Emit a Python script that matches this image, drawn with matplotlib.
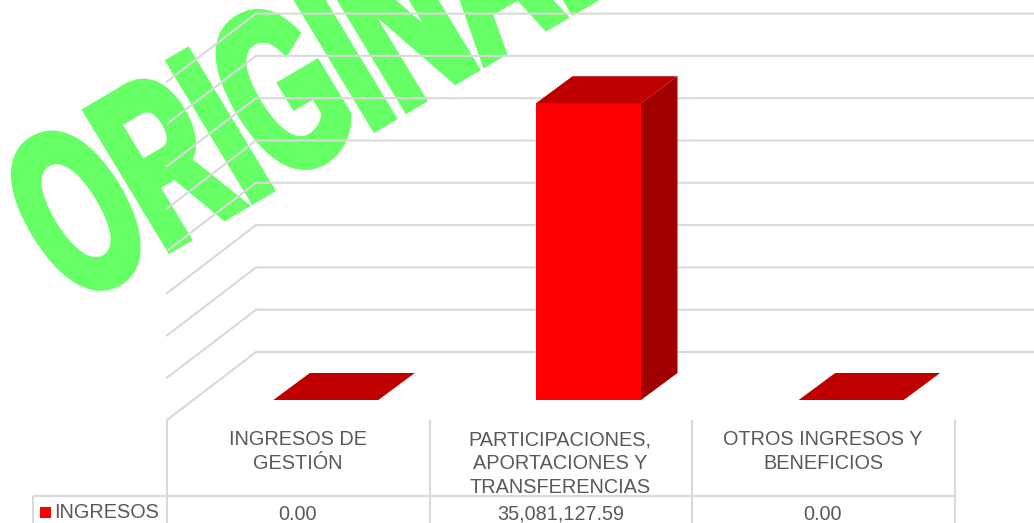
import matplotlib
matplotlib.use('Agg')
import matplotlib.pyplot as plt
import matplotlib.patheffects as pe
from matplotlib.patches import Polygon, Rectangle
from matplotlib.transforms import Affine2D, IdentityTransform

categories = ['INGRESOS DE\nGESTIÓN', 'PARTICIPACIONES,\nAPORTACIONES Y\nTRANSFERENCIAS', 'OTROS INGRESOS Y\nBENEFICIOS']
series_name = 'INGRESOS'
ingresos = [0.00, 35081127.59, 0.00]
value_labels = ['0.00', '35,081,127.59', '0.00']
grid_values = [0, 5e6, 10e6, 15e6, 20e6, 25e6, 30e6, 35e6, 40e6]
watermark = 'ORIGINAL'

W, H = 1034, 523
GRID = '#d9d9d9'
TEXT = '#595959'
GREEN = '#66ff66'

class Skew(pe.AbstractPathEffect):
    # real text, only sheared at draw time like the wordart in the picture
    def __init__(self, anchor, matrix, lw):
        self.shear = Affine2D().translate(-anchor[0], -anchor[1])
        self.shear = self.shear + Affine2D.from_values(*matrix) + Affine2D().translate(*anchor)
        self.lw = lw

    def draw_path(self, renderer, gc, tpath, affine, rgbFace=None):
        gc0 = renderer.new_gc()
        gc0.copy_properties(gc)
        gc0.set_linewidth(self.lw)
        gc0.set_joinstyle('miter')
        gc0.set_foreground(rgbFace)
        renderer.draw_path(gc0, tpath, affine + self.shear, rgbFace)
        gc0.restore()

fig = plt.figure(figsize=(W / 100, H / 100), dpi=100, facecolor='white')

# front plane of the bars
ax = fig.add_axes([167 / W, (H - 400) / H, 788 / W, 338.4 / H])
ax.set_xlim(-0.5, 2.5)
ax.set_ylim(0, 40e6)
ax.axis('off')

per_x = 3 / 788 # categories per pixel
per_y = 40e6 / 338.4 # value per pixel

# wordart under the gridlines
anchor = (73, H - 306)
ax.text(anchor[0], anchor[1], watermark, transform=IdentityTransform(), color=GREEN,
        fontsize=100, fontweight='bold', family='Liberation Sans', ha='left', va='baseline',
        clip_on=False, zorder=0,
        path_effects=[Skew(anchor, (0.83, 0.49, -0.87, 1.44, 0, 0), 6)])

for v in grid_values:
    xs = [-0.5, -0.5 + 89 * per_x, (W - 167) * per_x - 0.5]
    ys = [v - 20 * per_y, v + 48 * per_y, v + 48 * per_y]
    ax.plot(xs, ys, color=GRID, lw=1.5, clip_on=False, zorder=1, solid_joinstyle='miter')

# bars with their top and side faces, pushed back from the category centre
bar_w = 105 * per_x
dx = 36.5 * per_x
dy = 27 * per_y
positions = [i + 27.5 * per_x for i in range(len(ingresos))]
bars = ax.bar(positions, ingresos, width=bar_w, color='#ff0000', clip_on=False, zorder=3)
for x, v in zip(positions, ingresos):
    l = x - bar_w / 2
    r = x + bar_w / 2
    ax.add_patch(Polygon([(l, v), (r, v), (r + dx, v + dy), (l + dx, v + dy)], closed=True,
                         facecolor='#c00000', edgecolor='none', clip_on=False, zorder=3))
    if v > 0:
        ax.add_patch(Polygon([(r, 0), (r + dx, dy), (r + dx, v + dy), (r, v)], closed=True,
                             facecolor='#a00000', edgecolor='none', clip_on=False, zorder=3))

# data table under the chart
tb = fig.add_axes([0, 0, 1, 1])
tb.set_xlim(0, W)
tb.set_ylim(H, 0)
tb.axis('off')
edges = [167, 429.5, 692, 955]
for x in edges:
    tb.plot([x, x], [420, H], color=GRID, lw=1.5, solid_capstyle='butt')
tb.plot([33, 33], [496, H], color=GRID, lw=1.5, solid_capstyle='butt')
tb.plot([33, 955], [496, 496], color=GRID, lw=1.5, solid_capstyle='butt')

for i in range(len(categories)):
    cx = (edges[i] + edges[i + 1]) / 2 - 0.5
    tb.text(cx, 430, categories[i], ha='center', va='top', color=TEXT, fontsize=14.35,
            family='Liberation Sans', linespacing=1.32)
    tb.text(cx, 514, value_labels[i], ha='center', va='center', color=TEXT, fontsize=14.35,
            family='Liberation Sans')

tb.add_patch(Rectangle((40, 507), 11, 11, facecolor='#ff0000', edgecolor='none'))
tb.text(54, 513, series_name, ha='left', va='center', color=TEXT, fontsize=14.35,
        family='Liberation Sans')

fig.savefig('out.png', dpi=100)
